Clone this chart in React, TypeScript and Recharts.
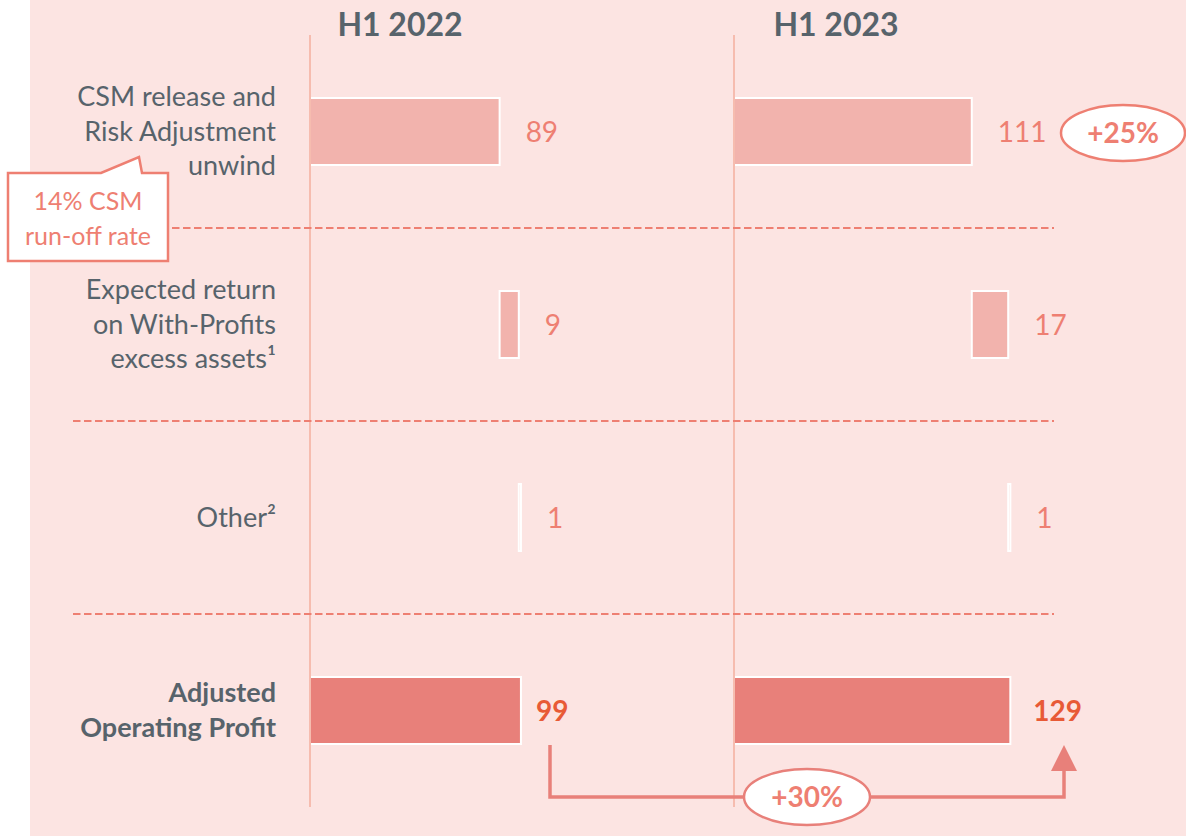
import React from 'react';
import { ComposedChart, Bar, XAxis, YAxis, LabelList, Cell } from 'recharts';

// ---- data ----
const categories = ['CSM', 'Expected return', 'Other', 'Adjusted Operating Profit'];
const categoryLines = [
  ['CSM release and', 'Risk Adjustment', 'unwind'],
  ['Expected return', 'on With-Profits', 'excess assets¹'],
  ['Other²'],
  ['Adjusted', 'Operating Profit'],
];
const isTotal = [false, false, false, true];
const periods = ['H1 2022', 'H1 2023'];
const values2022 = [89, 9, 1, 99];
const values2023 = [111, 17, 1, 129];
const growthLabels = ['+25%', '+30%'];
const calloutLines = ['14% CSM', 'run-off rate'];

const FONT = 'Lato, "Open Sans", sans-serif';
const BG = '#FCE4E2';
const LIGHT = '#F2B3AD';
const DARK = '#E8807A';
const AXIS = '#F6BCAF';
const VALUE = '#EE7F72';
const VALUE_BOLD = '#E85A36';
const TEXT = '#57636B';

function buildRows(values: number[]) {
  let run = 0;
  return categories.map((name, i) => {
    const total = isTotal[i];
    const row = {
      name,
      base: total ? 0 : run,
      step: total ? undefined : values[i],
      total: total ? values[i] : undefined,
    };
    if (!total) run += values[i];
    return row;
  });
}

const rows2022 = buildRows(values2022);
const rows2023 = buildRows(values2023);

const W = 1186;
const H = 836;
const MARGIN_TOP = 35;
const MARGIN_BOTTOM = 29;
const AXIS_A = 310;
const AXIS_B = 734;

const CategoryTick = (props: any) => {
  const { x, y, payload } = props;
  const idx = categories.indexOf(payload.value);
  const lines = categoryLines[idx] || [];
  const bold = isTotal[idx];
  const gap = bold ? 35 : 34.5;
  const fs = 27;
  return (
    <g>
      {lines.map((ln, i) => {
        const cy = y + (i - (lines.length - 1) / 2) * gap;
        return (
          <text
            key={i}
            x={x}
            y={cy + 26 * 0.36}
            textAnchor="end"
            fontFamily={FONT}
            fontSize={fs}
            fontWeight={bold ? 700 : 400}
            fill={TEXT}
          >
            {ln}
          </text>
        );
      })}
    </g>
  );
};

const makeLabel = (bold: boolean, offset: number) => (props: any) => {
  const { x, y, width, height, value } = props;
  if (value === undefined || value === null) return null;
  const fs = 28;
  return (
    <text
      x={Number(x) + Number(width) + offset}
      y={Number(y) + Number(height) / 2 + fs * 0.36}
      fontFamily={FONT}
      fontSize={fs}
      fontWeight={bold ? 700 : 400}
      fill={bold ? VALUE_BOLD : VALUE}
    >
      {value}
    </text>
  );
};

function Panel({ rows, left, right, domainMax, showTicks, totalOffset }: any) {
  return (
    <div style={{ position: 'absolute', left: 0, top: 0 }}>
      <ComposedChart
        width={W}
        height={H}
        data={rows}
        layout="vertical"
        margin={{ top: MARGIN_TOP, bottom: MARGIN_BOTTOM, left: 0, right }}
        barCategoryGap={0}
      >
        <XAxis type="number" domain={[0, domainMax]} hide />
        <YAxis
          type="category"
          dataKey="name"
          width={left}
          axisLine={{ stroke: AXIS, strokeWidth: 2 }}
          tickLine={false}
          tickSize={6}
          tickMargin={28}
          tick={showTicks ? <CategoryTick /> : false}
          interval={0}
        />
        <Bar dataKey="base" stackId="s" fill="transparent" barSize={67} isAnimationActive={false} />
        <Bar
          dataKey="step"
          stackId="s"
          fill={LIGHT}
          stroke="#FFFFFF"
          strokeWidth={2}
          barSize={67}
          isAnimationActive={false}
        >
          {rows.map((_: any, i: number) => (
            <Cell key={i} fill={LIGHT} />
          ))}
          <LabelList dataKey="step" content={makeLabel(false, 26)} />
        </Bar>
        <Bar
          dataKey="total"
          stackId="s"
          fill={DARK}
          stroke="#FFFFFF"
          strokeWidth={2}
          barSize={67}
          isAnimationActive={false}
        >
          <LabelList dataKey="total" content={makeLabel(true, totalOffset)} />
        </Bar>
      </ComposedChart>
    </div>
  );
}

function Overlay() {
  const sepY = [228, 421, 614];
  return (
    <svg
      width={W}
      height={H}
      style={{ position: 'absolute', left: 0, top: 0, pointerEvents: 'none' }}
    >
      {/* period titles */}
      <text x={400} y={36} textAnchor="middle" fontFamily={FONT} fontSize={32} fontWeight={700} fill={TEXT}>
        {periods[0]}
      </text>
      <text x={836} y={36} textAnchor="middle" fontFamily={FONT} fontSize={32} fontWeight={700} fill={TEXT}>
        {periods[1]}
      </text>
      {/* separators */}
      {sepY.map((y) => (
        <line key={y} x1={73} x2={1054} y1={y} y2={y} stroke={VALUE} strokeWidth={2} strokeDasharray="7.5 3.5" />
      ))}
      {/* callout */}
      <path
        d="M8,173 L101,173 L139,157 L142,173 L168,173 L168,261 L8,261 Z"
        fill="#FFFFFF"
        stroke={VALUE}
        strokeWidth={2.5}
      />
      <text x={88} y={210} textAnchor="middle" fontFamily={FONT} fontSize={25} fill={VALUE}>
        {calloutLines[0]}
      </text>
      <text x={88} y={245} textAnchor="middle" fontFamily={FONT} fontSize={25} fill={VALUE}>
        {calloutLines[1]}
      </text>
      {/* +25% bubble */}
      <ellipse cx={1123} cy={133} rx={62} ry={28} fill="#FFFFFF" stroke={VALUE} strokeWidth={2.5} />
      <text x={1123} y={143} textAnchor="middle" fontFamily={FONT} fontSize={28} fontWeight={700} fill={VALUE}>
        {growthLabels[0]}
      </text>
      {/* bracket arrow */}
      <path d="M550,745 L550,797 L1064,797 L1064,768" fill="none" stroke={DARK} strokeWidth={3.5} />
      <path d="M1051,771 L1064,745 L1077,771 Z" fill={DARK} />
      <ellipse cx={807} cy={797} rx={63} ry={28} fill="#FFFFFF" stroke={DARK} strokeWidth={2.5} />
      <text x={807} y={807} textAnchor="middle" fontFamily={FONT} fontSize={28} fontWeight={700} fill={VALUE}>
        {growthLabels[1]}
      </text>
    </svg>
  );
}

export default function App() {
  return (
    <div style={{ position: 'absolute', left: 0, top: 0, width: W, height: H, background: '#FFFFFF', overflow: 'hidden' }}>
      <div style={{ position: 'absolute', left: 30, top: 0, width: W - 30, height: H, background: BG }} />
      <Panel rows={rows2022} left={AXIS_A} right={W - AXIS_B} domainMax={199} showTicks totalOffset={15} />
      <Panel rows={rows2023} left={AXIS_B} right={0} domainMax={211} showTicks={false} totalOffset={23} />
      <Overlay />
    </div>
  );
}
